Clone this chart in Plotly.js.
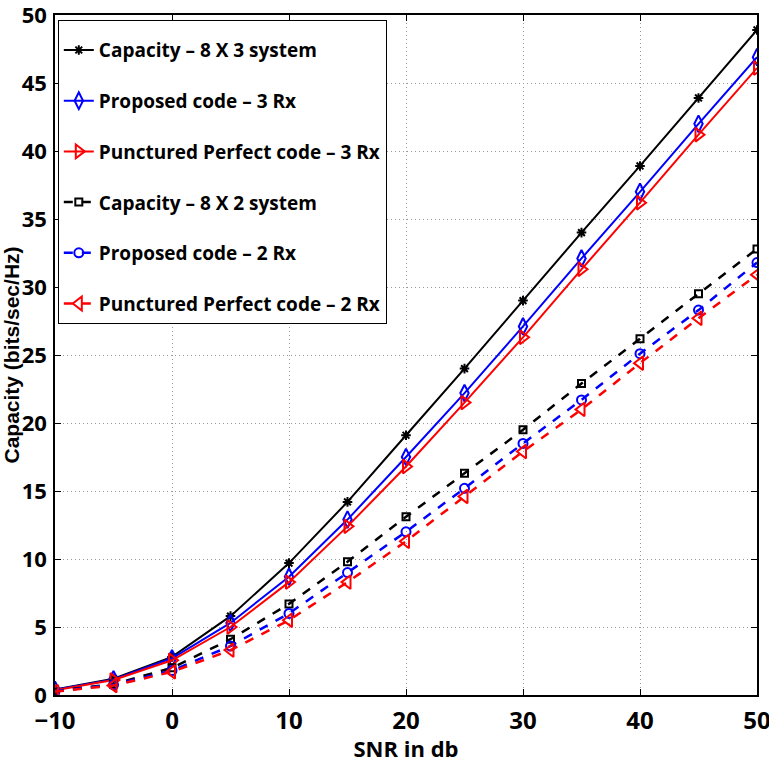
<!DOCTYPE html>
<html><head><meta charset="utf-8">
<script src="https://cdn.plot.ly/plotly-3.0.1.min.js"></script>
<style>html,body{margin:0;padding:0;background:#fff}#plot{width:769px;height:763px}</style>
</head><body><div id="plot"></div>
<script>
const snr = [-10, -5, 0, 5, 10, 15, 20, 25, 30, 35, 40, 45, 50];
const cap3 = [0.4, 1.2, 2.8, 5.8, 9.7, 14.2, 19.1, 24.0, 29.0, 34.0, 38.9, 43.9, 48.9];
const prop3 = [0.38, 1.15, 2.7, 5.3, 8.7, 12.9, 17.5, 22.2, 27.1, 32.1, 37.0, 42.0, 46.9];
const punc3 = [0.35, 1.1, 2.55, 5.0, 8.3, 12.4, 16.8, 21.5, 26.3, 31.3, 36.2, 41.2, 46.1];
const cap2 = [0.3, 0.8, 2.0, 4.1, 6.7, 9.8, 13.1, 16.3, 19.5, 22.9, 26.2, 29.5, 32.8];
const prop2 = [0.28, 0.75, 1.8, 3.6, 6.0, 9.0, 12.0, 15.2, 18.5, 21.7, 25.1, 28.3, 31.8];
const punc2 = [0.25, 0.7, 1.7, 3.3, 5.5, 8.3, 11.3, 14.6, 17.9, 21.0, 24.4, 27.7, 30.9];
const names = ["Capacity – 8 X 3 system", "Proposed code – 3 Rx", "Punctured Perfect code – 3 Rx",
  "Capacity – 8 X 2 system", "Proposed code – 2 Rx", "Punctured Perfect code – 2 Rx"];
const xTicks = [-10, 0, 10, 20, 30, 40, 50];
const yTicks = [0, 5, 10, 15, 20, 25, 30, 35, 40, 45, 50];

const F = '"Open Sans", "Liberation Sans", sans-serif';
function tr(y, i, color, dash, symbol, msize) {
  return {x: snr, y: y, name: names[i], type: 'scatter', mode: 'lines+markers',
    legendgroup: 'g' + i,
    line: {color: color, width: dash === 'solid' ? 2 : 2.5, dash: dash},
    marker: {symbol: symbol, size: msize, color: color, line: {color: color, width: 2}}};
}
const data = [
  tr(cap3, 0, '#000000', 'solid', 'asterisk-open', 8),
  tr(prop3, 1, '#0000ff', 'solid', 'diamond-tall-open', 12),
  tr(punc3, 2, '#ff0000', 'solid', 'triangle-right-open', 12),
  tr(cap2, 3, '#000000', 'dash', 'square-open', 7),
  tr(prop2, 4, '#0000ff', 'dash', 'circle-open', 9),
  tr(punc2, 5, '#ff0000', 'dash', 'triangle-left-open', 12)
];
function font(size) { return {family: F, size: size, color: '#000', weight: 'bold', stretch: 'condensed'}; }
const axisCommon = {showline: true, linecolor: '#000', linewidth: 1.5, mirror: 'ticks',
  ticks: 'inside', ticklen: 6, tickcolor: '#000', showgrid: true, gridcolor: '#999999',
  griddash: '1px,3px', gridwidth: 1, zeroline: false, ticklabeloverflow: 'allow'};
const layout = {
  width: 769, height: 763,
  margin: {l: 55, r: 12, t: 15, b: 68},
  paper_bgcolor: '#fff', plot_bgcolor: '#fff',
  showlegend: true,
  legend: {x: 0.004, y: 0.993, xanchor: 'left', yanchor: 'top', bgcolor: '#fff',
    bordercolor: '#000', borderwidth: 1, tracegroupgap: 23, itemwidth: 30,
    title: {text: '\u00a0', font: {size: 8}},
    font: font(19)},
  xaxis: Object.assign({}, axisCommon, {range: [-10, 50], tickvals: xTicks, ticklabelstandoff: 3,
    tickfont: font(24),
    title: {text: 'SNR in db', standoff: 0, font: font(22)}}),
  yaxis: Object.assign({}, axisCommon, {range: [0, 50], tickvals: yTicks, ticklabelstandoff: 2,
    tickfont: font(22),
    title: {text: 'Capacity (bits/sec/Hz)', standoff: 4, font: {family: 'Liberation Sans, Arial, sans-serif', size: 21, color: '#000', weight: 'bold'}}})
};
Plotly.newPlot('plot', data, layout, {displayModeBar: false});
</script></body></html>
